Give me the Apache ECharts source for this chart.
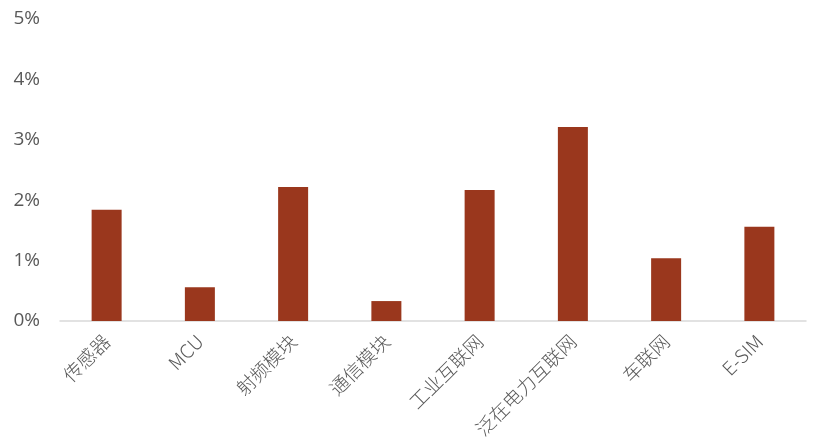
<!DOCTYPE html>
<html><head><meta charset="utf-8">
<script src="https://cdn.jsdelivr.net/npm/echarts@6/dist/echarts.min.js"></script>
<style>html,body{margin:0;padding:0;background:#fff}#c{width:814px;height:441px}</style>
</head><body><div id="c"></div>
<script>
var categories = ['传感器','MCU','射频模块','通信模块','工业互联网','泛在电力互联网','车联网','E-SIM'];
var values = [1.84, 0.56, 2.22, 0.33, 2.17, 3.21, 1.04, 1.56];
var yTicks = [0, 1, 2, 3, 4, 5];

var chart = echarts.init(document.getElementById('c'));
chart.setOption({
  animation: false,
  grid: {left: 60, right: 8, top: 19, bottom: 120, containLabel: false},
  xAxis: {
    type: 'category', data: categories,
    axisLine: {lineStyle: {color: '#d9d9d9', width: 1.5}},
    axisTick: {show: false},
    axisLabel: {rotate: 45, interval: 0, margin: 17, color: '#595959', fontSize: 19,
      fontFamily: '"Noto Sans CJK SC", sans-serif', fontWeight: 300}
  },
  yAxis: {
    type: 'value', min: yTicks[0], max: yTicks[yTicks.length-1], interval: 1,
    axisLine: {show: false}, axisTick: {show: false}, splitLine: {show: false},
    axisLabel: {formatter: '{value}%', color: '#595959', fontSize: 19, margin: 20,
      fontFamily: '"Open Sans", sans-serif'}
  },
  series: [{
    type: 'bar', data: values, barWidth: 30,
    itemStyle: {color: '#9a371d'}
  }]
});
</script></body></html>
